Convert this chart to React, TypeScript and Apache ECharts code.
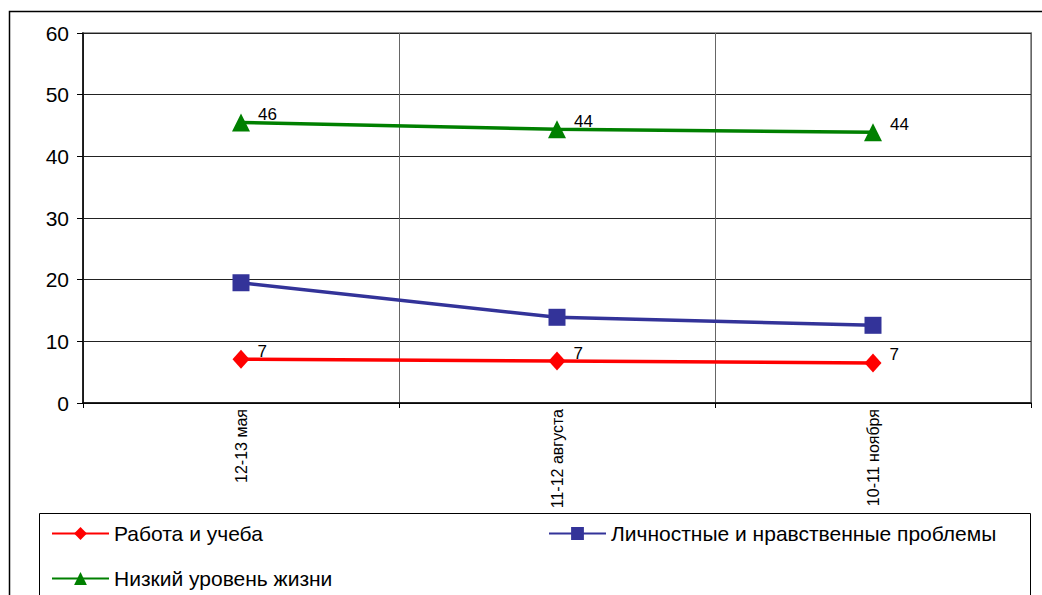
import React, { useEffect, useRef } from "react";
import * as echarts from "echarts";

const categories = ["12-13 мая", "11-12 августа", "10-11 ноября"];
const seriesNames = ["Работа и учеба", "Личностные и нравственные проблемы", "Низкий уровень жизни"];
const workStudy = [7.1, 6.8, 6.5];
const personalMoral = [19.5, 13.9, 12.6];
const lowLiving = [45.5, 44.4, 43.9];
const yTicks = { min: 0, max: 60, interval: 10 };

const FONT = "'Liberation Sans', Arial, sans-serif";

export default function App() {
  const ref = useRef<HTMLDivElement>(null);
  useEffect(() => {
    if (!ref.current) return;
    const chart = echarts.init(ref.current, null, { renderer: "svg" });
    const label = {
      show: true,
      position: "right" as const,
      distance: 8,
      offset: [0, -8],
      color: "#000",
      fontSize: 17,
      fontFamily: FONT,
      formatter: (p: any) => String(Math.round(p.value)),
    };
    const legendText = { color: "#000", fontSize: 21, fontFamily: FONT };
    const legendBase = {
      itemWidth: 57,
      itemHeight: 16,
      itemGap: 10,
      padding: 0,
      textStyle: legendText,
    };
    chart.setOption({
      animation: false,
      backgroundColor: "#fff",
      grid: {
        left: 83,
        right: 11,
        top: 33,
        bottom: 192,
        show: true,
        borderColor: "#999",
        borderWidth: 2,
      },
      graphic: [
        {
          type: "rect",
          shape: { x: 9.5, y: 11.5, width: 1200, height: 800 },
          style: { fill: "none", stroke: "#000", lineWidth: 1.5 },
          silent: true,
        },
        {
          type: "rect",
          shape: { x: 39.5, y: 513.5, width: 991, height: 300 },
          style: { fill: "none", stroke: "#000", lineWidth: 1 },
          silent: true,
        },
      ],
      legend: [
        { ...legendBase, data: [seriesNames[0]], left: 51, top: 523 },
        { ...legendBase, data: [seriesNames[1]], left: 548, top: 523 },
        { ...legendBase, data: [seriesNames[2]], left: 51, top: 568 },
      ],
      xAxis: {
        type: "category",
        data: categories,
        boundaryGap: true,
        axisLine: { show: true, lineStyle: { color: "#000", width: 1.5 } },
        axisTick: { show: true, length: 5, lineStyle: { color: "#000" } },
        splitLine: { show: true, lineStyle: { color: "#666", width: 1 } },
        axisLabel: {
          rotate: 90,
          color: "#000",
          fontSize: 16,
          fontFamily: FONT,
          margin: 6,
        },
      },
      yAxis: {
        type: "value",
        min: yTicks.min,
        max: yTicks.max,
        interval: yTicks.interval,
        axisLine: { show: true, lineStyle: { color: "#000", width: 1.5 } },
        axisTick: { show: true, length: 6, lineStyle: { color: "#000" } },
        splitLine: { show: true, lineStyle: { color: "#222", width: 1 } },
        axisLabel: { color: "#000", fontSize: 21, fontFamily: FONT, margin: 14 },
      },
      series: [
        {
          name: seriesNames[0],
          type: "line",
          data: workStudy,
          symbol: "diamond",
          symbolSize: [17, 19],
          lineStyle: { color: "#FF0000", width: 3.5 },
          itemStyle: { color: "#FF0000" },
          label,
        },
        {
          name: seriesNames[1],
          type: "line",
          data: personalMoral,
          symbol: "rect",
          symbolSize: 17,
          lineStyle: { color: "#333399", width: 3.5 },
          itemStyle: { color: "#333399" },
        },
        {
          name: seriesNames[2],
          type: "line",
          data: lowLiving,
          symbol: "triangle",
          symbolSize: 18,
          lineStyle: { color: "#008000", width: 3.5 },
          itemStyle: { color: "#008000" },
          label,
        },
      ],
    });
    return () => chart.dispose();
  }, []);
  return (
    <div
      ref={ref}
      style={{ position: "fixed", left: 0, top: 0, width: 1042, height: 595 }}
    />
  );
}
